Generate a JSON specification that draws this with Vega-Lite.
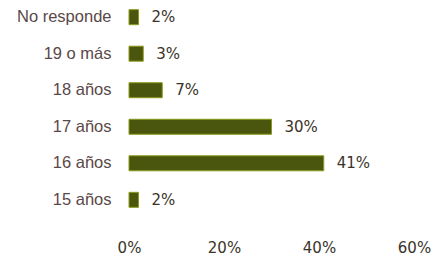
{
  "$schema": "https://vega.github.io/schema/vega-lite/v6.json",
  "width": 285,
  "height": 217,
  "autosize": "none",
  "padding": {"left": 129, "top": 0, "right": 17, "bottom": 39},
  "background": "#ffffff",
  "config": {"view": {"stroke": null}},
  "data": {"values": [
    {"grupo": "No responde", "pct": 2, "etiqueta": "2%"},
    {"grupo": "19 o más", "pct": 3, "etiqueta": "3%"},
    {"grupo": "18 años", "pct": 7, "etiqueta": "7%"},
    {"grupo": "17 años", "pct": 30, "etiqueta": "30%"},
    {"grupo": "16 años", "pct": 41, "etiqueta": "41%"},
    {"grupo": "15 años", "pct": 2, "etiqueta": "2%"}
  ]},
  "encoding": {
    "y": {
      "field": "grupo", "type": "nominal", "sort": null,
      "scale": {"paddingInner": 0.59, "paddingOuter": 0.265},
      "axis": {"title": null, "ticks": false, "domain": false, "labelPadding": 18,
               "labelFont": "Liberation Sans", "labelFontSize": 16.5, "labelColor": "#5a4848"}
    },
    "x": {
      "field": "pct", "type": "quantitative",
      "scale": {"domain": [0, 60], "nice": false},
      "axis": {"title": null, "values": [0, 20, 40, 60], "labelExpr": "datum.value + '%'",
               "labelFlush": false,
               "ticks": false, "domain": false, "grid": false, "labelPadding": 23,
               "labelFont": "DejaVu Sans", "labelFontSize": 15, "labelColor": "#3a3428"}
    }
  },
  "layer": [
    {"mark": {"type": "bar", "color": "#4a560e", "stroke": "#8c9a1a", "strokeWidth": 1}},
    {"mark": {"type": "text", "align": "left", "baseline": "middle", "dx": 13,
              "font": "DejaVu Sans", "fontSize": 15, "color": "#3a3428"},
     "encoding": {"text": {"field": "etiqueta", "type": "nominal"}}}
  ]
}
